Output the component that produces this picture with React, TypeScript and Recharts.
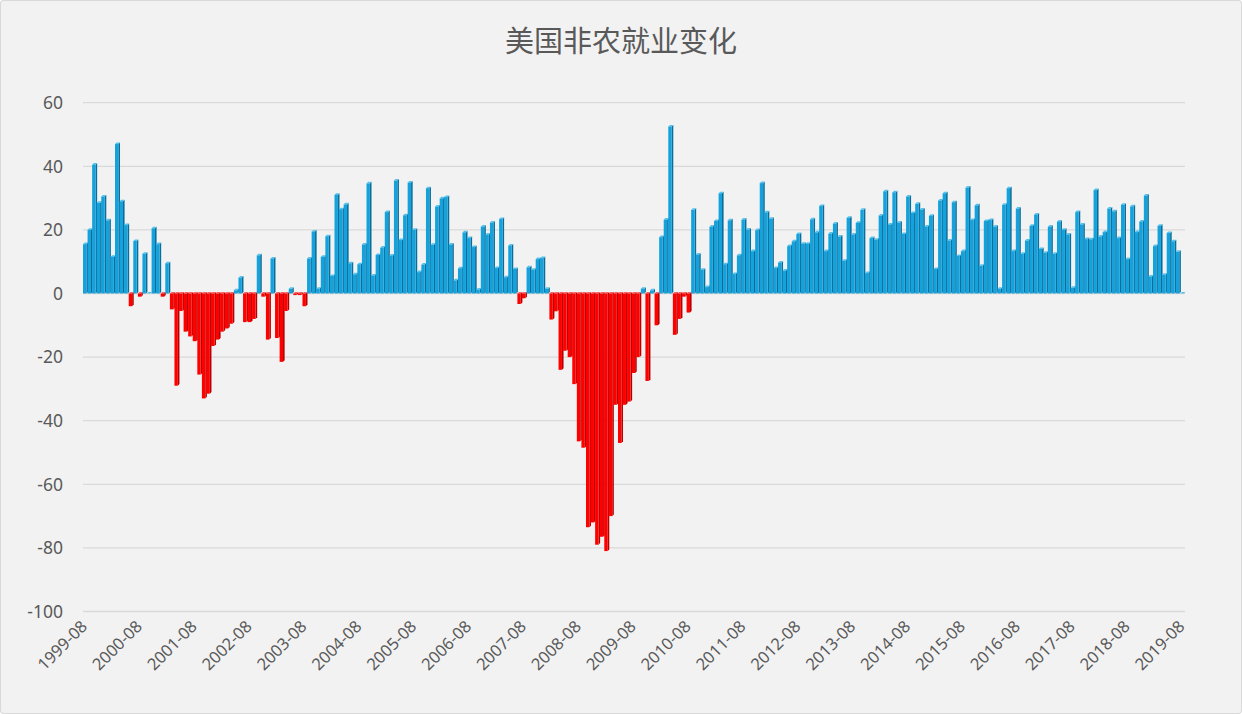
import { BarChart, Bar, XAxis, YAxis, CartesianGrid } from "recharts";

// monthly change, 10k jobs, starting 1999-08
const jobs1999to2003 = [
  15.5, 20, 40.5, 28.5, 30.5, 23, 11.5, 47, 29, 21.5, -4, 16.5,
  -1, 12.5, 0, 20.5, 15.5, -1, 9.5, -5, -29, -5.5, -12, -13.5,
  -15, -25.5, -33, -31.5, -16.5, -14.5, -12, -11, -9.5, 1, 5, -9,
  -9, -8, 12, -1, -14.5, 11, -14, -21.5, -5.5, 1.5, -0.5, -0.5,
];
const jobs2003to2007 = [
  -4, 11, 19.5, 1.5, 11.5, 18, 5.5, 31, 26.5, 28, 9.5, 6,
  9.2, 15.4, 34.6, 5.6, 12.1, 14.4, 25.6, 11.9, 35.5, 16.8, 24.6, 34.9,
  20, 6.7, 9.1, 33.1, 15.3, 27.3, 29.9, 30.3, 15.4, 4.1, 7.9, 19.2,
  17.4, 14.6, 1.2, 21, 18.5, 22.3, 8, 23.4, 5.1, 15.1, 7.7, -3.3,
];
const jobs2007to2011 = [
  -1.5, 8.2, 7.4, 10.8, 11.1, 1.5, -8.2, -5.6, -24, -18, -20, -28.5,
  -46.5, -48.5, -73.5, -72, -79, -76.5, -81, -70, -35, -47, -35, -34,
  -25, -20, 1.5, -27.5, 1, -10, 17.7, 23.2, 52.5, -13, -8, -1,
  -6, 26.3, 12.2, 7.4, 2, 21, 22.8, 31.5, 9.2, 23, 6.1, 12,
];
const jobs2011to2015 = [
  23.2, 20.1, 13.3, 19.9, 34.7, 25.5, 23.5, 8, 9.7, 7.2, 14.9, 16.4,
  18.7, 15.6, 15.6, 23.3, 19.2, 27.5, 13.3, 18.8, 22, 17.9, 10.3, 23.8,
  18.5, 22.2, 26.3, 6.4, 17.4, 16.9, 24.5, 32.1, 21.7, 31.8, 22.3, 18.7,
  30.5, 25.3, 28.2, 26.4, 21, 24.4, 7.7, 29.2, 31.5, 16.6, 28.7, 11.8,
];
const jobs2015to2019 = [
  13.3, 33.3, 23.1, 27.7, 8.7, 22.8, 23.1, 21, 1.5, 27.9, 33.1, 13.3,
  26.7, 12.5, 16.6, 21.3, 24.8, 14, 12.8, 21, 12.5, 22.6, 20, 18.5,
  1.8, 25.6, 21.7, 17.1, 17, 32.5, 17.9, 19.3, 26.7, 25.8, 17.4, 27.9,
  10.8, 27.4, 19.3, 22.6, 30.8, 5.3, 14.9, 21.3, 5.9, 19, 16.4, 13.1,
];
const jobs2019 = [0];

const yTicks = [-100, -80, -60, -40, -20, 0, 20, 40, 60];

const values = [
  ...jobs1999to2003,
  ...jobs2003to2007,
  ...jobs2007to2011,
  ...jobs2011to2015,
  ...jobs2015to2019,
  ...jobs2019,
];

// category labels: yyyy-mm from 1999-08
const months = values.map((_, i) => {
  const n = 7 + i;
  const year = 1999 + Math.floor(n / 12);
  const month = (n % 12) + 1;
  return `${year}-${month < 10 ? "0" + month : month}`;
});

const data = months.map((month, i) => ({ month, change: values[i] }));

const DEPTH = 1.6;

function Bar3D(props: any) {
  const { x, y, width, height, payload } = props;
  if (width == null || height == null) return null;
  const neg = payload.change < 0;
  const top = Math.min(y, y + height);
  const bottom = Math.max(y, y + height);
  const w = width;
  const d = Math.min(DEPTH, w * 0.4);
  const front = neg ? "#fe0000" : "#14a2dc";
  const side = neg ? "#b50000" : "#0a6c99";
  const cap = neg ? "#ff5c5c" : "#50c2ee";
  return (
    <g>
      <polygon
        points={`${x + w - d},${top} ${x + w},${top - d} ${x + w},${bottom - d} ${x + w - d},${bottom}`}
        fill={side}
      />
      <polygon
        points={`${x},${top} ${x + d},${top - d} ${x + w},${top - d} ${x + w - d},${top}`}
        fill={cap}
      />
      <rect x={x} y={top} width={w - d} height={bottom - top} fill={front} />
    </g>
  );
}

function MonthTick({ x, y, payload }: any) {
  const ax = x + 3;
  const ay = y + 16;
  return (
    <text
      x={ax}
      y={ay}
      transform={`rotate(-45 ${ax} ${ay})`}
      textAnchor="end"
      fontSize={16.5}
      fontFamily="'Noto Sans', sans-serif"
      fill="#595959"
    >
      {payload.value}
    </text>
  );
}

export default function App() {
  return (
    <div
      style={{
        position: "relative",
        width: 1242,
        height: 714,
        background: "#f2f2f2",
        boxShadow: "inset 0 0 0 1px #d9d9d9",
        borderRadius: 4,
      }}
    >
      <style>{"body{margin:0}"}</style>
      <div
        style={{
          position: "absolute",
          top: 19,
          left: 0,
          width: 1242,
          textAlign: "center",
          fontFamily: "'Noto Sans CJK SC', sans-serif",
          fontSize: 29,
          lineHeight: "40px",
          color: "#595959",
        }}
      >
        美国非农就业变化
      </div>
      <BarChart
        width={1242}
        height={714}
        data={data}
        margin={{ top: 102.7, right: 57, bottom: 32.5, left: 23 }}
        barCategoryGap={0}
        barGap={0}
      >
        <CartesianGrid vertical={false} stroke="#d9d9d9" strokeWidth={1.3} />
        <XAxis
          dataKey="month"
          interval={11}
          axisLine={false}
          tickLine={false}
          tickSize={0}
          tickMargin={0}
          height={70}
          tick={<MonthTick />}
        />
        <YAxis
          domain={[-100, 60]}
          ticks={yTicks}
          width={60}
          axisLine={false}
          tickLine={false}
          tickSize={0}
          tickMargin={20}
          tick={{ fontSize: 17.5, fill: "#595959", fontFamily: "'Noto Sans', sans-serif" }}
        />
        <Bar dataKey="change" shape={<Bar3D />} isAnimationActive={false} />
      </BarChart>
    </div>
  );
}
